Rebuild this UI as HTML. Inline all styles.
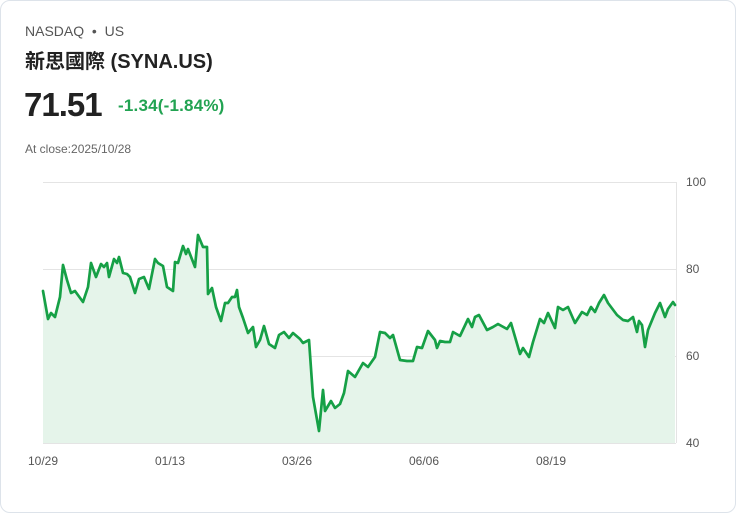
<!DOCTYPE html>
<html><head><meta charset="utf-8"><style>
html,body{margin:0;padding:0;background:#fff;}
body{width:736px;height:513px;position:relative;overflow:hidden;font-family:"Liberation Sans","Noto Sans CJK TC",sans-serif;}
.card{position:absolute;left:0;top:0;width:734px;height:511px;border:1px solid #dde3ea;border-radius:10px;}
.t{position:absolute;white-space:nowrap;}
</style></head><body>
<div class="card"></div>
<div class="t" style="left:25px;top:23px;font-size:14px;color:#555;">NASDAQ &nbsp;•&nbsp; US</div>
<div class="t" style="left:25px;top:45px;font-size:20px;font-weight:bold;color:#222;">新思國際 (SYNA.US)</div>
<div class="t" style="left:24px;top:86px;font-size:33px;font-weight:bold;color:#222;letter-spacing:-1px;">71.51</div>
<div class="t" style="left:118px;top:96px;font-size:17px;font-weight:bold;color:#22a352;letter-spacing:0.2px;">-1.34(-1.84%)</div>
<div class="t" style="left:25px;top:142px;font-size:12px;color:#666;">At close:2025/10/28</div>
<svg width="736" height="513" style="position:absolute;left:0;top:0" font-family="Liberation Sans, sans-serif">
<g stroke="#e4e4e4" stroke-width="1">
<line x1="43" y1="182.5" x2="676" y2="182.5"/><line x1="43" y1="269.5" x2="676" y2="269.5"/>
<line x1="43" y1="356.5" x2="676" y2="356.5"/><line x1="43" y1="443.5" x2="676" y2="443.5"/>
<line x1="676.5" y1="182" x2="676.5" y2="443"/>
</g>
<g font-size="12" fill="#555">
<text x="686" y="186">100</text><text x="686" y="273">80</text><text x="686" y="360">60</text><text x="686" y="447">40</text>
<text x="43" y="465" text-anchor="middle">10/29</text><text x="170" y="465" text-anchor="middle">01/13</text>
<text x="297" y="465" text-anchor="middle">03/26</text><text x="424" y="465" text-anchor="middle">06/06</text>
<text x="551" y="465" text-anchor="middle">08/19</text>
</g>
<polygon fill="#e5f4ea" points="43,443 43,291 48,319 51,313 55,317 60,297 63,265 67,280 71,293 75,291 83,302 88,287 91,263 96,277 101,264 104,267 107,263 109,277 114,259 117,263 119,257 123,273 127,274 130,277 135,293 139,279 144,277 149,289 155,259 158,263 163,266 167,287 173,291 175,262 178,263 183,246 186,254 188,249 195,267 198,235 203,247 207,247 208,294 212,288 216,307 221,321 225,303 228,303 232,297 235,297 237,290 239,307 243,318 248,333 253,327 256,347 260,340 264,326 269,344 275,348 279,335 284,332 289,338 293,333 300,339 303,343 309,340 313,397 319,431 323,390 325,411 331,401 335,408 340,404 344,393 348,371 355,377 363,363 368,367 375,357 380,332 385,333 390,338 393,335 400,360 407,361 413,361 417,347 422,348 428,331 435,340 437,348 440,341 445,342 450,342 453,332 460,336 468,319 472,327 475,317 479,315 487,330 493,327 498,324 507,329 511,323 520,354 523,348 529,357 533,342 540,319 544,323 548,313 555,328 558,307 563,310 568,307 575,323 582,312 587,315 591,307 595,312 599,303 604,295 608,303 617,315 623,320 628,321 633,317 637,332 639,321 642,325 645,347 648,330 655,313 660,303 665,317 668,309 673,302 675,305 675,443"/>
<polyline fill="none" stroke="#16a046" stroke-width="2.7" stroke-linejoin="round" stroke-linecap="round" points="43,291 48,319 51,313 55,317 60,297 63,265 67,280 71,293 75,291 83,302 88,287 91,263 96,277 101,264 104,267 107,263 109,277 114,259 117,263 119,257 123,273 127,274 130,277 135,293 139,279 144,277 149,289 155,259 158,263 163,266 167,287 173,291 175,262 178,263 183,246 186,254 188,249 195,267 198,235 203,247 207,247 208,294 212,288 216,307 221,321 225,303 228,303 232,297 235,297 237,290 239,307 243,318 248,333 253,327 256,347 260,340 264,326 269,344 275,348 279,335 284,332 289,338 293,333 300,339 303,343 309,340 313,397 319,431 323,390 325,411 331,401 335,408 340,404 344,393 348,371 355,377 363,363 368,367 375,357 380,332 385,333 390,338 393,335 400,360 407,361 413,361 417,347 422,348 428,331 435,340 437,348 440,341 445,342 450,342 453,332 460,336 468,319 472,327 475,317 479,315 487,330 493,327 498,324 507,329 511,323 520,354 523,348 529,357 533,342 540,319 544,323 548,313 555,328 558,307 563,310 568,307 575,323 582,312 587,315 591,307 595,312 599,303 604,295 608,303 617,315 623,320 628,321 633,317 637,332 639,321 642,325 645,347 648,330 655,313 660,303 665,317 668,309 673,302 675,305"/>
</svg>
</body></html>
